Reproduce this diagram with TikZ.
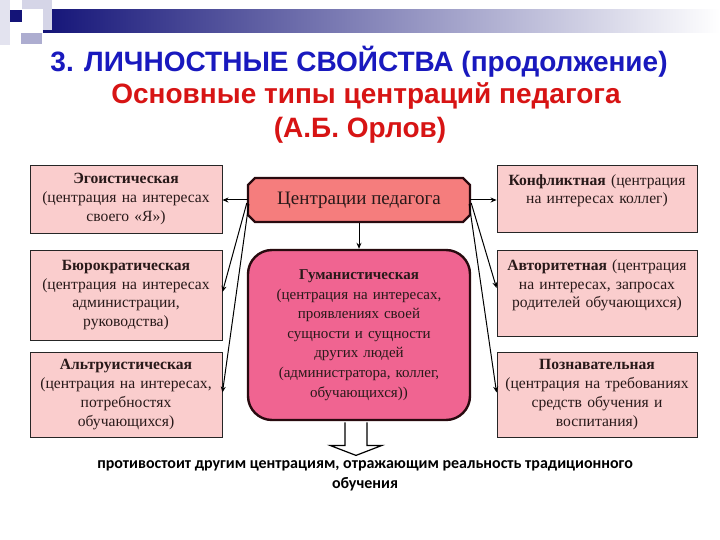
\documentclass[tikz,border=0pt]{standalone}
\usepackage{fontspec}
\setmainfont{Liberation Serif}
\newfontfamily\titlefont{Liberation Sans}
\newfontfamily\notefont{Carlito}
\usetikzlibrary{arrows.meta,calc}
\definecolor{navy}{RGB}{20,20,120}
\definecolor{tblue}{RGB}{25,25,190}
\definecolor{tred}{RGB}{215,20,20}
\definecolor{sidefill}{RGB}{250,205,205}
\definecolor{cpfill}{RGB}{245,125,125}
\definecolor{humfill}{RGB}{240,100,145}
\definecolor{dborder}{RGB}{40,10,15}
\definecolor{txt}{RGB}{40,25,25}
\tikzset{
  sidebox/.style={draw=black!85, line width=0.9pt, fill=sidefill, text=txt,
    minimum width=192pt, text width=188pt, align=center, inner sep=0pt,
    font=\fontsize{15.6}{18.8}\selectfont},
  cpbox/.style={rectangle, text=txt,
    minimum width=222pt, minimum height=44pt, inner sep=0pt,
    font=\fontsize{19}{22}\selectfont},
  cpedge/.style={draw=dborder, line width=2.4pt, fill=cpfill, line join=miter},
  humbox/.style={rounded corners=24pt, draw=dborder, line width=2.4pt, fill=humfill, text=txt,
    minimum width=222pt, minimum height=170pt, text width=212pt, align=center, inner sep=0pt,
    font=\fontsize{15}{19.6}\selectfont},
  conn/.style={line width=1pt, draw=black, -{Stealth[length=6pt,width=5pt]}},
  ttl/.style={font=\titlefont\bfseries\fontsize{28}{32}\selectfont},
}
\begin{document}
\begin{tikzpicture}[x=1pt,y=-1pt]
\useasboundingbox (0,0) rectangle (720,540);
\fill[white] (0,0) rectangle (720,540);
% top decoration
\shade[left color=navy, right color=white] (43,10) rectangle (720,33);
\fill[navy!12] (0,0) rectangle (10,45);
\fill[navy!18] (22,0) rectangle (52,9);
\fill[navy!18] (43,9) rectangle (52,30);
\fill[navy!35] (21,33) rectangle (42,44);
\fill[navy] (10,10) rectangle (22,22);
% titles
\node[ttl, text=tblue] (t1) at (359,62) {3. ЛИЧНОСТНЫЕ СВОЙСТВА (продолжение)};
\node[ttl, text=tred] (t2) at (366,96) {Основные типы центраций педагога};
\node[ttl, text=tred] (t3) at (360,130) {(А.Б. Орлов)};
% left boxes
\node[sidebox, minimum height=68pt] (ego) at (126,199)
  {\textbf{Эгоистическая}\\(центрация на интересах\\своего «Я»)};
\node[sidebox, minimum height=90pt] (bur) at (126,295)
  {\textbf{Бюрократическая}\\(центрация на интересах\\администрации,\\руководства)};
\node[sidebox, minimum height=85pt] (alt) at (126,394.5)
  {\textbf{Альтруистическая}\\(центрация на интересах,\\потребностях\\обучающихся)};
% right boxes
\node[sidebox, minimum width=200pt, text width=196pt, minimum height=67pt] (konf) at (597,198.5)
  {\textbf{Конфликтная} (центрация\\на интересах коллег)\\\mbox{}};
\node[sidebox, minimum width=200pt, text width=196pt, minimum height=86pt] (avt) at (597,293)
  {\textbf{Авторитетная} (центрация\\на интересах, запросах\\родителей обучающихся)\\\mbox{}};
\node[sidebox, minimum width=200pt, text width=196pt, minimum height=85pt] (pozn) at (597,394.5)
  {\textbf{Познавательная}\\(центрация на требованиях\\средств обучения и\\воспитания)};
% center
\coordinate (cpc) at (359,200);
\draw[cpedge] ($(cpc)+(-104,-22)$) -- ($(cpc)+(104,-22)$) -- ($(cpc)+(111,-15)$)
  -- ($(cpc)+(111,15)$) -- ($(cpc)+(104,22)$) -- ($(cpc)+(-104,22)$)
  -- ($(cpc)+(-111,15)$) -- ($(cpc)+(-111,-15)$) -- cycle;
\node[cpbox] (cp) at (cpc) {Центрации педагога};
\node[humbox] (hum) at (359,335)
  {\textbf{Гуманистическая}\\(центрация на интересах,\\проявлениях своей\\сущности и сущности\\других людей\\(администратора, коллег,\\обучающихся))};
% connectors
\draw[conn] (cp.west) -- (cp.west -| ego.east);
\draw[conn] ($(cp.west)+(-1,3)$) -- ($(bur.east)+(0,-3)$);
\draw[conn] ($(cp.west)+(1,4)$) -- ($(alt.east)+(0,-2)$);
\draw[conn] (cp.east) -- (cp.east -| konf.west);
\draw[conn] ($(cp.east)+(1,3)$) -- ($(avt.west)+(0,-5)$);
\draw[conn] ($(cp.east)+(-1,4)$) -- ($(pozn.west)+(0,-2)$);
\draw[conn] ($(cp.south)+(0,1.2)$) -- (hum.north);
% block arrow
\coordinate (ba) at ($(hum.south)+(-3,1.2)$);
\draw[line width=1.2pt, fill=white, line join=miter]
  ($(ba)+(-11,0)$) -- ($(ba)+(-11,23)$) -- ($(ba)+(-26,23)$) -- ($(ba)+(0,33)$)
  -- ($(ba)+(26,23)$) -- ($(ba)+(11,23)$) -- ($(ba)+(11,0)$);
% note
\node[font=\notefont\bfseries\fontsize{16}{19.5}\selectfont, align=center, text=black] (note) at (365,476)
  {противостоит другим центрациям, отражающим реальность традиционного\\обучения};
\end{tikzpicture}
\end{document}
